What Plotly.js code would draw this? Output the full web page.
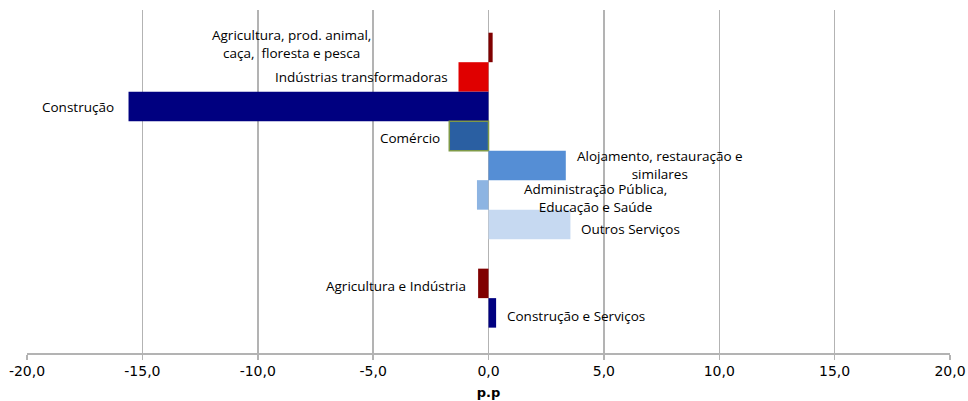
<!DOCTYPE html>
<html><head><meta charset="utf-8">
<script src="https://cdn.plot.ly/plotly-3.0.1.min.js"></script>
<style>html,body{margin:0;padding:0;background:#fff}#chart{width:968px;height:401px}</style>
</head><body><div id="chart"></div>
<script>
// Categories (top to bottom); " " is the empty separator row
const categories = [
  "Agricultura, prod. animal,<br>caça,  floresta e pesca",
  "Indústrias transformadoras",
  "Construção",
  "Comércio",
  "Alojamento, restauração e<br>similares",
  "Administração Pública,<br>Educação e Saúde",
  "Outros Serviços",
  " ",
  "Agricultura e Indústria",
  "Construção e Serviços"
];
const barCategories = [
  categories[0], categories[1], categories[2], categories[3], categories[4],
  categories[5], categories[6], categories[8], categories[9]
];
const values = [0.18, -1.3, -15.6, -1.7, 3.35, -0.5, 3.55, -0.45, 0.33];
const colors = ["#800000", "#E00000", "#000080", "#2A5FA2", "#558ED5", "#8DB4E2", "#C6D9F1", "#800000", "#000080"];
const borderColors = ["#800000", "#E00000", "#000080", "#7F9A48", "#558ED5", "#8DB4E2", "#C6D9F1", "#800000", "#000080"];
const borderWidths = [0, 0, 0, 1.5, 0, 0, 0, 0, 0];
const tickVals = [-20, -15, -10, -5, 0, 5, 10, 15, 20];
const tickLabels = ["-20,0", "-15,0", "-10,0", "-5,0", "0,0", "5,0", "10,0", "15,0", "20,0"];
// label x-positions (data units) for the text placed beside the bars
const labelX = [-8.55, -5.5, -17.8, -3.4, 7.45, 4.64, 6.15, -4.03, 3.81];
const labelShift = [3, 0, -1, -2, 0, -3, -5, -3, -3];

const trace = {
  type: "bar", orientation: "h",
  x: values, y: barCategories,
  marker: {color: colors, line: {color: borderColors, width: borderWidths}},
  hoverinfo: "x+y"
};

const font = "Open Sans, Liberation Sans, sans-serif";
const annotations = barCategories.map((c, i) => ({
  x: labelX[i], y: c, xref: "x", yref: "y",
  text: c, showarrow: false, xanchor: "center", yanchor: "middle",
  yshift: labelShift[i],
  font: {family: font, size: 13.5, color: "#000"}, align: "center"
}));

const layout = {
  width: 968, height: 401,
  margin: {l: 27, r: 18, t: 10, b: 48},
  paper_bgcolor: "#fff", plot_bgcolor: "#fff",
  separators: ",.",
  showlegend: false,
  bargap: 0,
  xaxis: {
    range: [-20, 20], tickvals: tickVals, ticktext: tickLabels,
    showgrid: true, gridcolor: "#B3B3B3", gridwidth: 1.5,
    zeroline: false, showline: true, linecolor: "#B3B3B3", linewidth: 1.5,
    ticks: "outside", ticklen: 5, tickcolor: "#B3B3B3", tickwidth: 1.5,
    tickfont: {family: "DejaVu Sans", size: 14, color: "#000"},
    title: {text: "<b>p.p</b>", font: {family: "DejaVu Sans", size: 13, color: "#000"}, standoff: 9}
  },
  yaxis: {
    type: "category", categoryorder: "array", categoryarray: categories,
    range: [10.36, -1.27], showticklabels: false, showgrid: false,
    zeroline: false, showline: false, ticks: ""
  },
  annotations: annotations
};

Plotly.newPlot("chart", [trace], layout, {displayModeBar: false, staticPlot: true});
</script></body></html>
